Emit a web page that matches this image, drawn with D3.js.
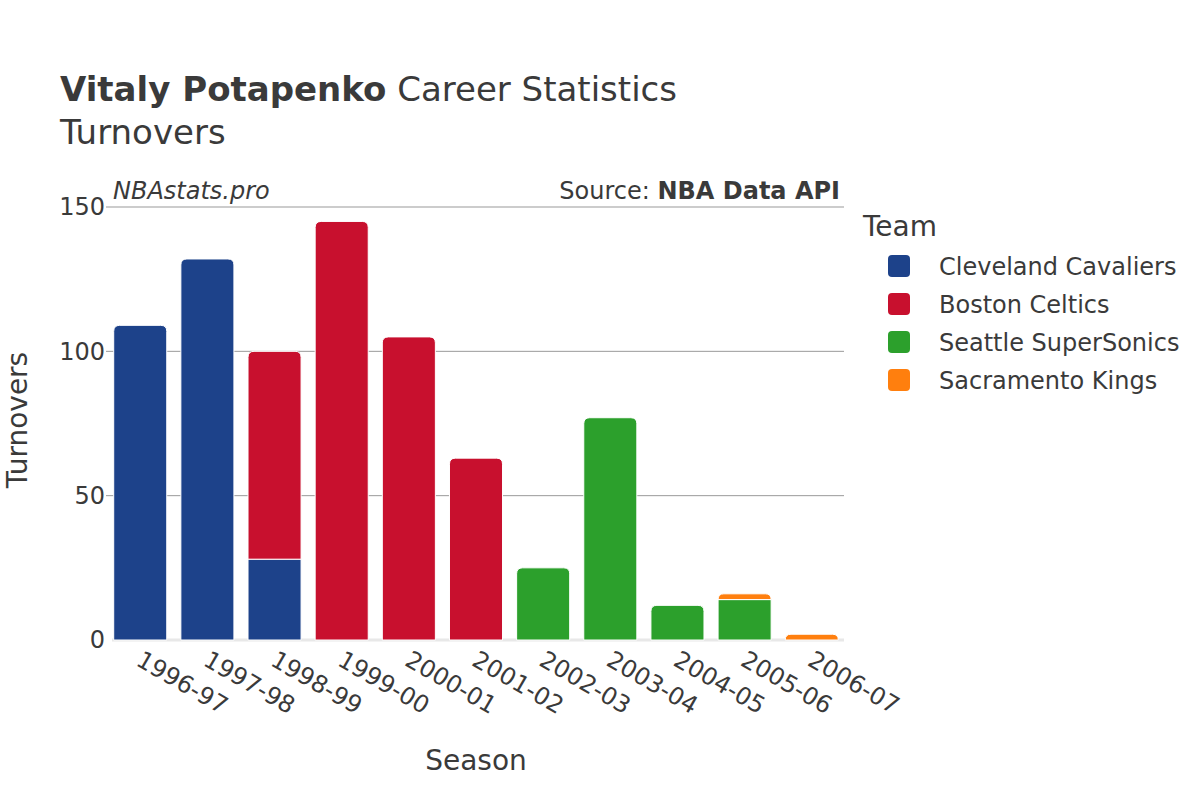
<!DOCTYPE html>
<html>
<head>
<meta charset="utf-8">
<script src="https://cdn.jsdelivr.net/npm/d3@7"></script>
<style>
  body { margin: 0; background: #fff; }
  text { font-family: "DejaVu Sans", sans-serif; fill: #3a3a3a; }
</style>
</head>
<body>
<div id="chart"></div>
<script>
const seasons = ["1996-97","1997-98","1998-99","1999-00","2000-01","2001-02","2002-03","2003-04","2004-05","2005-06","2006-07"];
const teams = ["Cleveland Cavaliers","Boston Celtics","Seattle SuperSonics","Sacramento Kings"];
const teamColors = ["#1d428a","#c8102e","#2ca02c","#ff7f0e"];
const cavaliers = [109,132,28,0,0,0,0,0,0,0,0];
const celtics   = [0,0,72,145,105,63,0,0,0,0,0];
const sonics    = [0,0,0,0,0,0,25,77,12,14,0];
const kings     = [0,0,0,0,0,0,0,0,0,2,2];
const yTicks = [0,50,100,150];

const series = [cavaliers, celtics, sonics, kings];
const rows = seasons.map((s, i) => {
    const r = { season: s };
    teams.forEach((t, j) => r[t] = series[j][i]);
    return r;
});

const W = 1200, H = 800;
const margin = { top: 207, right: 356, bottom: 160, left: 112 };
const width = W - margin.left - margin.right,
      height = H - margin.top - margin.bottom;

const svg = d3.select("#chart").append("svg")
    .attr("width", W)
    .attr("height", H);

const g = svg.append("g")
    .attr("transform", `translate(${margin.left},${margin.top})`);

const x = d3.scaleBand().domain(seasons).range([-5, 733]).paddingInner(0.21).paddingOuter(0.1);
const y = d3.scaleLinear().domain([0, 150]).range([height, 0]);
const color = d3.scaleOrdinal().domain(teams).range(teamColors);

// grid
g.append("g")
    .selectAll("line")
    .data(yTicks.filter(d => d > 0))
    .enter().append("line")
    .attr("x1", -6).attr("x2", width)
    .attr("y1", d => y(d)).attr("y2", d => y(d))
    .attr("stroke", "#999").attr("stroke-width", 1);

// zero line
g.append("line")
    .attr("x1", 0).attr("x2", width)
    .attr("y1", y(0)).attr("y2", y(0))
    .attr("stroke", "#e8e8e8").attr("stroke-width", 3);

// y tick labels
g.append("g")
    .selectAll("text")
    .data(yTicks)
    .enter().append("text")
    .attr("x", -7)
    .attr("y", d => y(d))
    .attr("dy", "0.35em")
    .attr("text-anchor", "end")
    .style("font-size", "24px")
    .text(d => d);

const stacked = d3.stack().keys(teams)(rows);

// rounded-top path for the topmost segment
function barPath(x0, y0, w, h, r) {
    r = Math.min(r, h, w / 2);
    return `M${x0},${y0 + h}V${y0 + r}Q${x0},${y0} ${x0 + r},${y0}H${x0 + w - r}Q${x0 + w},${y0} ${x0 + w},${y0 + r}V${y0 + h}Z`;
}

const topIndex = {};
rows.forEach(r => {
    let last = -1;
    teams.forEach((t, j) => { if (r[t] > 0) last = j; });
    topIndex[r.season] = last;
});

stacked.forEach((layer, j) => {
    g.append("g")
        .selectAll("path")
        .data(layer.filter(d => d[1] - d[0] > 0))
        .enter().append("path")
        .attr("d", d => {
            const x0 = x(d.data.season), w = x.bandwidth();
            const yTop = y(d[1]), h = y(d[0]) - y(d[1]);
            const r = topIndex[d.data.season] === j ? 6 : 0;
            return barPath(x0, yTop, w, h, r);
        })
        .attr("fill", teamColors[j])
        .attr("stroke", "#fff")
        .attr("stroke-width", 1);
});

// x tick labels
g.append("g")
    .selectAll("text")
    .data(seasons)
    .enter().append("text")
    .attr("transform", d => `translate(${x(d) + x.bandwidth() / 2 + 3},${height + 10}) rotate(30)`)
    .attr("dy", "0.7em")
    .attr("text-anchor", "start")
    .style("font-size", "24px")
    .text(d => d);

// axis titles
svg.append("text")
    .attr("x", 476)
    .attr("y", 770)
    .attr("text-anchor", "middle")
    .style("font-size", "28px")
    .text("Season");

svg.append("text")
    .attr("transform", `translate(27,420) rotate(-90)`)
    .attr("text-anchor", "middle")
    .style("font-size", "28px")
    .text("Turnovers");

// title
const title = svg.append("text").attr("x", 60).attr("y", 101).style("font-size", "34px");
title.append("tspan").style("font-weight", "bold").text("Vitaly Potapenko");
title.append("tspan").text(" Career Statistics");
svg.append("text").attr("x", 60).attr("y", 144).style("font-size", "34px").text("Turnovers");

// watermark / source
svg.append("text")
    .attr("x", 113).attr("y", 199)
    .style("font-size", "24px").style("font-style", "italic")
    .text("NBAstats.pro");
const src = svg.append("text")
    .attr("x", 840).attr("y", 199)
    .attr("text-anchor", "end")
    .style("font-size", "24px");
src.append("tspan").text("Source: ");
src.append("tspan").style("font-weight", "bold").text("NBA Data API");

// legend
svg.append("text").attr("x", 863).attr("y", 236).style("font-size", "28px").text("Team");
const leg = svg.append("g")
    .selectAll("g")
    .data(teams)
    .enter().append("g")
    .attr("transform", (d, i) => `translate(888,${266 + i * 38})`);
leg.append("rect")
    .attr("x", 0).attr("y", -11)
    .attr("width", 22).attr("height", 22)
    .attr("rx", 4)
    .attr("fill", d => color(d));
leg.append("text")
    .attr("x", 51).attr("y", 1)
    .attr("dy", "0.35em")
    .style("font-size", "24px")
    .text(d => d);
</script>
</body>
</html>
